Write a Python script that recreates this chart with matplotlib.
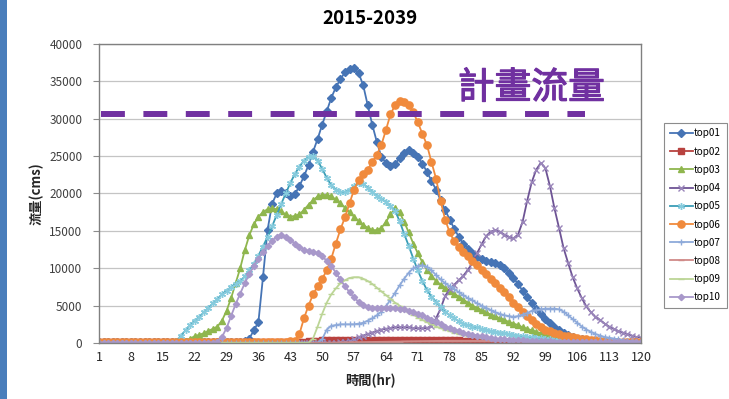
import matplotlib
matplotlib.use("Agg")
import matplotlib.pyplot as plt
import matplotlib.patheffects as pe
from matplotlib.patches import Rectangle

plt.rcParams['font.family'] = ['Noto Sans CJK TC', 'DejaVu Sans']

hours = list(range(1, 121))
x_ticks = list(range(1, 121, 7))
y_ticks = list(range(0, 40001, 5000))
design_flow = 30700

top01 = [150, 150, 150, 150, 150, 150, 150, 150, 150, 150,
         150, 150, 150, 150, 150, 150, 150, 150, 150, 150,
         150, 150, 150, 150, 150, 150, 150, 150, 150, 150,
         150, 200, 300, 600, 1700, 2800, 8800, 15100, 18600, 20000,
         20300, 20100, 19700, 19900, 21000, 22300, 23800, 25600, 27300, 29200,
         31000, 32800, 34200, 35300, 36200, 36700, 36800, 36100, 34500, 31800,
         29200, 26900, 24900, 24100, 23700, 24000, 24700, 25400, 25800, 25400,
         24900, 24000, 22900, 21700, 20500, 19100, 17800, 16500, 15300, 14200,
         13300, 12600, 12000, 11500, 11200, 11000, 10900, 10700, 10400, 10000,
         9400, 8700, 7900, 7000, 6200, 5400, 4600, 3900, 3200, 2700,
         2100, 1700, 1300, 1100, 800, 600, 500, 400, 300, 250,
         200, 150, 120, 100, 80, 60, 50, 40, 30, 20]

top02 = [100, 100, 100, 100, 100, 100, 100, 100, 100, 100,
         100, 100, 100, 100, 100, 100, 100, 100, 100, 100,
         100, 100, 100, 100, 100, 100, 100, 100, 100, 100,
         100, 100, 100, 100, 100, 100, 100, 100, 100, 100,
         100, 100, 100, 100, 150, 200, 250, 300, 300, 350,
         350, 350, 400, 400, 400, 400, 400, 400, 400, 400,
         400, 400, 400, 400, 400, 400, 400, 400, 400, 400,
         400, 400, 400, 380, 380, 360, 360, 350, 350, 340,
         320, 300, 280, 260, 240, 220, 200, 180, 160, 150,
         140, 130, 120, 110, 100, 100, 100, 90, 90, 90,
         80, 80, 80, 70, 70, 70, 60, 60, 60, 50,
         50, 50, 50, 40, 40, 40, 30, 30, 30, 30]

top03 = [50, 50, 50, 50, 50, 50, 50, 50, 50, 50,
         50, 50, 50, 50, 50, 50, 50, 100, 200, 300,
         600, 900, 1100, 1300, 1600, 1900, 2200, 3000, 4300, 6000,
         8000, 10000, 12400, 14400, 15900, 16900, 17500, 17900, 18000, 17900,
         17600, 17200, 16900, 17000, 17200, 17800, 18500, 19100, 19600, 19800,
         19800, 19600, 19200, 18700, 18100, 17500, 16900, 16300, 15800, 15400,
         15100, 15100, 15400, 16200, 17200, 18000, 17500, 16200, 14800, 13300,
         12000, 10800, 9800, 9000, 8300, 7800, 7400, 7000, 6600, 6200,
         5800, 5400, 5000, 4700, 4400, 4100, 3800, 3600, 3300, 3100,
         2800, 2600, 2400, 2100, 1900, 1700, 1500, 1300, 1100, 1000,
         900, 800, 700, 600, 500, 450, 400, 350, 300, 260,
         230, 200, 180, 160, 140, 120, 110, 100, 90, 80]

top04 = [50, 50, 50, 50, 50, 50, 50, 50, 50, 50,
         50, 50, 50, 50, 50, 50, 50, 50, 50, 50,
         50, 50, 50, 50, 50, 50, 50, 50, 50, 50,
         50, 50, 50, 50, 50, 50, 50, 50, 50, 50,
         50, 50, 50, 50, 50, 50, 50, 50, 50, 50,
         50, 50, 50, 100, 200, 300, 500, 800, 1000, 1200,
         1400, 1600, 1800, 1900, 2000, 2100, 2100, 2100, 2100, 2000,
         2000, 2000, 2000, 2300, 3300, 4600, 6300, 7200, 7800, 8400,
         9000, 9800, 10700, 12000, 13200, 14300, 14900, 15100, 14900, 14500,
         14200, 14000, 14500, 16200, 19000, 21500, 23200, 24100, 23400, 21000,
         18000, 15400, 12700, 10700, 8800, 7300, 6000, 4900, 4100, 3500,
         3100, 2600, 2200, 1900, 1600, 1400, 1200, 1000, 800, 700]

top05 = [50, 50, 50, 50, 50, 50, 50, 50, 50, 50,
         50, 50, 50, 50, 50, 50, 50, 300, 1000, 1700,
         2400, 3000, 3500, 4100, 4700, 5300, 5900, 6500, 7000, 7500,
         7900, 8300, 8900, 9700, 10600, 11700, 12900, 14200, 15600, 17100,
         18600, 20000, 21400, 22600, 23600, 24400, 24900, 25000, 24400, 23300,
         22100, 21100, 20500, 20200, 20200, 20500, 21000, 21400, 21300, 20800,
         20200, 19700, 19300, 18900, 18300, 17700, 16300, 14600, 13000, 11300,
         9700, 8300, 7100, 6200, 5500, 4800, 4200, 3700, 3300, 2900,
         2600, 2400, 2200, 2100, 1900, 1800, 1600, 1500, 1400, 1300,
         1200, 1100, 1000, 900, 800, 750, 700, 650, 600, 500,
         450, 400, 380, 350, 320, 300, 280, 250, 220, 200,
         180, 160, 150, 140, 130, 120, 110, 100, 100, 100]

top06 = [200, 200, 200, 200, 200, 200, 200, 200, 200, 200,
         200, 200, 200, 200, 200, 200, 200, 200, 200, 200,
         200, 200, 200, 200, 200, 200, 200, 200, 200, 200,
         200, 200, 200, 200, 200, 200, 200, 200, 200, 200,
         200, 200, 250, 300, 1200, 3300, 5000, 6500, 7600, 8600,
         9700, 11300, 13300, 15200, 16800, 18700, 20500, 21800, 22600, 23200,
         24200, 25200, 26500, 28500, 30600, 31800, 32400, 32300, 31800, 30900,
         29500, 28000, 26500, 24200, 22000, 19000, 16500, 14800, 13600, 12800,
         12200, 11600, 11000, 10400, 9800, 9200, 8600, 8000, 7400, 6800,
         6100, 5400, 4800, 4100, 3600, 3100, 2600, 2200, 1800, 1600,
         1400, 1200, 1000, 900, 800, 700, 600, 500, 400, 350,
         300, 250, 200, 180, 150, 120, 100, 90, 80, 70]

top07 = [30, 30, 30, 30, 30, 30, 30, 30, 30, 30,
         30, 30, 30, 30, 30, 30, 30, 30, 30, 30,
         30, 30, 30, 30, 30, 30, 30, 30, 30, 30,
         30, 30, 30, 30, 30, 30, 30, 30, 30, 30,
         30, 30, 30, 30, 30, 30, 30, 30, 30, 500,
         1800, 2300, 2400, 2500, 2500, 2500, 2500, 2600, 2700, 3000,
         3300, 3700, 4200, 4900, 5800, 6700, 7700, 8600, 9400, 10000,
         10300, 10400, 10200, 9700, 9100, 8500, 8000, 7600, 7200, 6800,
         6400, 6000, 5700, 5300, 5000, 4700, 4400, 4100, 3900, 3700,
         3600, 3500, 3600, 3800, 4000, 4300, 4400, 4500, 4600, 4600,
         4600, 4500, 4200, 3700, 3200, 2700, 2200, 1800, 1500, 1200,
         1000, 800, 700, 600, 500, 400, 300, 250, 200, 150]

top08 = [30, 30, 30, 30, 30, 30, 30, 30, 30, 30,
         30, 30, 30, 30, 30, 30, 30, 30, 30, 30,
         30, 30, 30, 30, 30, 30, 30, 30, 30, 30,
         30, 30, 30, 30, 30, 30, 30, 30, 30, 30,
         30, 30, 30, 30, 30, 30, 30, 30, 30, 30,
         40, 50, 60, 70, 80, 90, 100, 110, 120, 130,
         140, 150, 160, 170, 180, 190, 200, 210, 220, 230,
         240, 250, 260, 270, 280, 290, 300, 300, 300, 300,
         300, 300, 300, 300, 300, 300, 300, 300, 290, 280,
         270, 260, 250, 240, 230, 220, 210, 200, 190, 180,
         170, 160, 150, 140, 130, 120, 110, 100, 90, 80,
         70, 60, 50, 50, 40, 40, 30, 30, 30, 30]

top09 = [30, 30, 30, 30, 30, 30, 30, 30, 30, 30,
         30, 30, 30, 30, 30, 30, 30, 30, 30, 30,
         30, 30, 30, 30, 30, 30, 30, 30, 30, 30,
         30, 30, 30, 30, 30, 30, 30, 30, 30, 30,
         30, 30, 30, 30, 30, 30, 30, 600, 2200, 3900,
         5400, 6500, 7300, 8000, 8400, 8700, 8800, 8800, 8600, 8300,
         7900, 7400, 6900, 6400, 5900, 5400, 5000, 4600, 4200, 3800,
         3400, 3100, 2800, 2500, 2200, 2000, 1800, 1600, 1400, 1200,
         1100, 1000, 900, 800, 700, 650, 600, 550, 500, 450,
         400, 380, 360, 340, 320, 300, 280, 260, 240, 220,
         200, 190, 180, 170, 160, 150, 140, 130, 120, 110,
         100, 95, 90, 85, 80, 75, 70, 65, 60, 55]

top10 = [30, 30, 30, 30, 30, 30, 30, 30, 30, 30,
         30, 30, 30, 30, 30, 30, 30, 30, 30, 30,
         30, 30, 30, 30, 30, 30, 200, 800, 2000, 3600,
         5200, 6600, 8000, 9200, 10300, 11300, 12200, 13000, 13700, 14200,
         14400, 14200, 13800, 13300, 12900, 12500, 12300, 12200, 12000, 11600,
         11000, 10300, 9400, 8500, 7600, 6800, 6100, 5500, 5100, 4800,
         4700, 4700, 4700, 4700, 4700, 4700, 4600, 4500, 4300, 4100,
         3900, 3700, 3400, 3100, 2800, 2500, 2200, 2000, 1800, 1600,
         1400, 1200, 1100, 1000, 900, 800, 700, 600, 550, 500,
         450, 400, 380, 350, 320, 300, 280, 260, 240, 220,
         200, 190, 180, 170, 160, 150, 140, 130, 120, 110,
         100, 100, 100, 100, 100, 100, 100, 100, 100, 100]

series = [
    ("top01", top01, dict(color="#4674B5", marker="D", ms=4.2)),
    ("top02", top02, dict(color="#B8423F", marker="s", ms=4.5)),
    ("top03", top03, dict(color="#8FB64E", marker="^", ms=5.0)),
    ("top04", top04, dict(color="#6E5495", marker="x", ms=4.5, mec="#9A86BA")),
    ("top05", top05, dict(color="#3A9DB6", marker=(6, 2, 0), ms=5.0, mec="#86CBDD")),
    ("top06", top06, dict(color="#F08A3C", marker="o", ms=5.2)),
    ("top07", top07, dict(color="#8EAADA", marker="+", ms=5.0)),
    ("top08", top08, dict(color="#D08A88", marker="_", ms=4.0)),
    ("top09", top09, dict(color="#BCD596", marker="_", ms=4.0)),
    ("top10", top10, dict(color="#A898CA", marker="D", ms=3.2)),
]

fig = plt.figure(figsize=(7.29, 3.99), dpi=100)
fig.patches.append(Rectangle((0, 0), 7 / 729, 1, transform=fig.transFigure,
                             facecolor="#4A7EBB", edgecolor="none"))

ax = fig.add_axes([99 / 729, 1 - 343 / 399, 542 / 729, 299 / 399])

for name, vals, st in series:
    ax.plot(hours, vals, label=name, lw=1.3, mew=1.0, **st)

# design-flow reference line and its caption
ax.plot([1.5, 107.7], [design_flow, design_flow], color="#7030A0", lw=4.3,
        dashes=(4.0, 3.1), solid_capstyle="butt", dash_capstyle="butt", zorder=5)
ax.text(95.9, 34100, "計畫流量", color="#7030A0", fontsize=26.5,
        ha="center", va="center", zorder=6,
        path_effects=[pe.withStroke(linewidth=0.9, foreground="#7030A0")])

ax.set_xlim(1, 120)
ax.set_ylim(0, 40000)
ax.set_xticks(x_ticks)
ax.set_yticks(y_ticks)
ax.tick_params(axis="x", length=0, labelsize=9, pad=6, colors="#262626")
ax.tick_params(axis="y", length=4.5, width=0.8, color="#8C8C8C",
               labelsize=8.5, pad=7.5, labelcolor="#404040")
ax.yaxis.grid(True, color="#C4C4C4", lw=0.9)
ax.set_axisbelow(True)
for sp in ax.spines.values():
    sp.set_color("#808080")
    sp.set_linewidth(1.0)

ax.set_xlabel("時間(hr)", fontsize=9.5, fontweight="bold", labelpad=7, color="#262626")
ax.set_ylabel("流量(cms)", fontsize=9.5, fontweight="bold", labelpad=4, color="#262626")
fig.text(370 / 729, 1 - 19 / 399, "2015-2039", fontsize=13.5, fontweight="bold",
         ha="center", va="center")

leg = fig.legend(loc="upper left", bbox_to_anchor=(664 / 729, 1 - 123 / 399),
                 fontsize=7.2, handlelength=2.3, handletextpad=0.15,
                 labelspacing=0.82, borderpad=0.55, borderaxespad=0,
                 fancybox=False, framealpha=1, edgecolor="#8C8C8C")
leg.get_frame().set_linewidth(0.8)

fig.savefig("out.png", dpi=100)
